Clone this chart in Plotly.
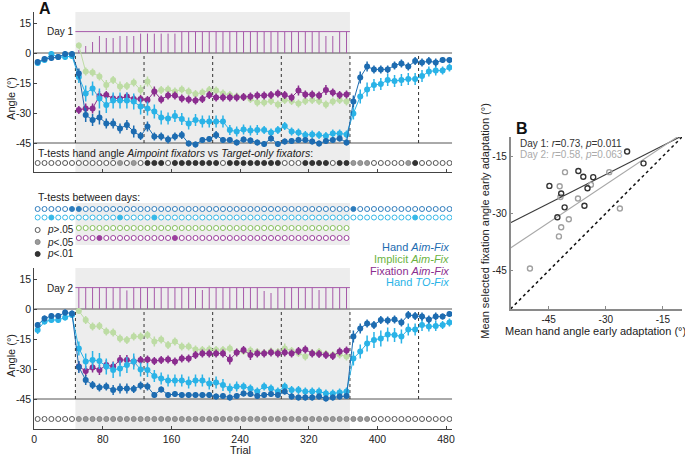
import numpy as np
import plotly.graph_objects as go

W, H = 685, 458
FONT = "Liberation Sans, Arial, Helvetica, sans-serif"

# ---------------- Panel A data ----------------
trial_bins = list(range(4, 488, 8))          # 61 bin centres (trials)
rot_bins = trial_bins[6:46]                  # 40 rotation bins
block_edges = [48, 128, 208, 288, 368, 448]
rot_start, rot_end = 48, 368
x_ticks = [0, 80, 160, 240, 320, 400, 480]
y_ticks = [-45, -30, -15, 0, 15]
y_ticktext = ["-45", "-30", "-15", "0", "15"]
ref_lines = [0, -45]

# Day 1
hand_aim_d1 = [-4.5, -3, -2.5, -2, -0.5, -0.5,
               -10.2, -31, -33.5, -32.2, -35.2, -35.2, -37.7, -36, -39.3, -41.5, -36.8, -41.8, -41.8, -43.2,
               -41.8, -41, -45.2, -45.7, -43.5, -43, -41, -43.5, -43.5, -44.8, -43.2, -43.8, -44.8,
               -45.5, -42.7, -45.5, -44.3, -44, -43.5, -43.5, -44.3, -45.2, -44, -43.5, -42.7, -44.8,
               -24.3, -12.2, -6.8, -8.2, -8.2, -8.2, -6.2, -5.2, -6.8, -4, -4.8, -4, -4.8, -3.5, -3.5]
hand_aim_d1_err = [1.5, 1.5, 1.5, 1.5, 1.5, 1.5,
                   2.5, 3.5, 3, 3.5, 2.5, 2.5, 2.5, 2.5, 3, 2, 2.5, 2, 2, 2,
                   2, 2, 1.5, 1.5, 1.5, 1.5, 2, 1.5, 1.5, 1.5, 1.5, 1.5, 1.5,
                   1.5, 1.5, 1.5, 1.5, 1.5, 1.5, 1.5, 1.5, 1.5, 1.5, 1.5, 1.5, 1.5,
                   3, 3, 2.5, 2, 2, 2, 2, 2, 2, 2, 2, 2, 2, 1.5, 1.5]
hand_to_d1 = [-5, -3.5, -0.5, -2, -2, -1.5,
              -12, -20.2, -17.7, -22.7, -26, -23.8, -23.8, -23.8, -24.3, -26.8, -27.7, -29.3, -32.2, -32.7,
              -31.5, -33, -35.2, -33.5, -34.3, -34.3, -34.3, -34.3, -38.5, -39.3, -38.2, -38.8, -38.5,
              -38.5, -39.8, -38.5, -36.5, -39.3, -39.8, -41, -40.7, -41, -41.5, -40.2, -40.2, -40.7,
              -30.2, -21.8, -18.2, -16, -15.5, -13.5, -14, -13.5, -13, -13, -11.5, -9.3, -8.8, -8.8, -7.3]
hand_to_d1_err = [1.5, 1.5, 1.5, 1.5, 1.5, 1.5,
                  3, 4, 3.5, 5, 4, 4, 4, 4, 4, 4, 3.5, 3.5, 3.5, 3,
                  3, 3, 3, 3, 3, 3, 3, 3, 2.5, 2.5, 2.5, 2.5, 2.5,
                  2, 2, 2, 2, 2, 2, 2, 2, 2, 2, 2, 2, 2,
                  3, 3.5, 3.5, 3, 3, 3, 3, 3, 3, 3, 3, 2.5, 2.5, 2, 2]
implicit_d1 = [3.7, -9.3, -9.8, -11.8, -16, -13.5, -16.8, -16.5, -14.8, -18.5, -14.3, -19.3, -18.5, -18.2,
               -19.3, -18.2, -19.3, -20.5, -19.8, -18.5, -18.8, -20.2, -21, -21.8,
               -22, -23, -24.8, -24.8, -24, -25.7, -23.5, -24, -25.2, -24, -23.5, -24, -25.7, -24.3, -23.5, -24.3]
implicit_d1_err = [1.5, 2, 2, 2, 2.5, 2, 2.5, 2, 2, 2.5, 2.5, 2, 2, 2, 2, 2, 2, 2, 2, 2, 2, 2, 2, 2,
                   2, 2, 2, 2, 2, 2, 2, 2, 2, 2, 2, 2, 2, 2, 2, 2]
fixation_d1 = [-28.5, -27.7, -27.7, -21.5, -21, -22.7, -22.7, -21.8, -23, -23, -23.5, -19.3, -23.2, -21.3,
               -21.3, -22.7, -23.2, -23.8, -23, -21, -22.2, -22.2, -22.2, -22.2,
               -22, -21.7, -21.2, -21.2, -21, -20.2, -21, -22.2, -18.8, -20.7, -20.7, -21.3, -18.5, -19.8, -21, -20.7]
fixation_d1_err = [2, 2.5, 2.5, 2.5, 2, 2, 2, 2, 2, 2, 2, 2.5, 2, 2, 2, 2, 2, 2, 2, 2, 2, 2, 2, 2,
                   2, 2, 2, 2, 2, 2, 2, 2, 2.5, 2, 2, 2, 2.5, 2, 2, 2]
aim_count_d1 = [1.5, 3.5, 5.5, 8.5, 7.5, 7.5, 8.5, 8.5, 8.5, 9.7, 9.7, 9.7, 9.7, 9.7, 9.7,
                10.7, 10.7, 10.7, 10.7, 10.7, 10.7, 10.7, 10.7, 10.7, 10.7, 10.7, 10.7, 10.7, 10.7, 10.7,
                10.7, 10.7, 10.7, 10.7, 10.7, 10.7, 8.5, 8.5, 10.7, 10.7]

# Day 2
hand_aim_d2 = [-8, -4.7, -3.5, -3.5, -1.8, -2.2,
               -29, -35.5, -38, -39.2, -38.8, -40.5, -39.7, -39.7, -40, -38.3, -38.8, -43, -40.2, -43,
               -42.5, -43, -43, -43, -43, -43, -43.8, -43.5, -44.3, -43.5,
               -42.2, -42.5, -43.5, -43, -42.5, -43, -41.3, -43.8, -44.2, -44.2, -44.2, -43.8, -44.7, -44.2, -43.8, -43.5,
               -13.8, -9.7, -7.2, -8, -5.5, -5.8, -5.2, -6.8, -3, -3.5, -3.8, -5.2, -3.8, -3.8, -2.5]
hand_aim_d2_err = [1.5, 1.5, 1.5, 1.5, 1.5, 1.5,
                   3, 2.5, 2, 2, 2, 2.5, 2.5, 2.5, 2, 2, 2, 1.5, 1.5, 1.5,
                   1.5, 1.5, 1.5, 1.5, 1.5, 1.5, 1.5, 1.5, 1.5, 1.5,
                   1.5, 1.5, 1.5, 1.5, 1.5, 1.5, 1.5, 1.5, 1.5, 1.5, 1.5, 1.5, 1.5, 1.5, 1.5, 1.5,
                   3, 2.5, 2, 2, 2, 2, 2, 2, 2, 2, 2, 2, 2, 1.5, 1.5]
hand_to_d2 = [-10.5, -6.3, -5.5, -5.5, -4.2, -3,
              -19.7, -26.3, -25.5, -26, -28.8, -30.5, -29.7, -28, -26.3, -30.2, -30.5, -33.5, -34.7, -35.8,
              -35.8, -35.8, -36.8, -35.8, -35.8, -37.2, -36.8, -38, -39.7, -38.8,
              -38.8, -39.7, -41.3, -38.8, -39.7, -41.3, -38.8, -40.5, -40.5, -41.3, -41.3, -41.3, -42.2, -42.2, -41.8, -41.3,
              -24.7, -21.3, -17.2, -15.5, -14.7, -12.7, -13, -13.8, -10.2, -10.2, -8, -8.8, -8.5, -8, -6.8]
hand_to_d2_err = [2, 1.5, 1.5, 1.5, 1.5, 1.5,
                  3.5, 4, 4.5, 4, 4, 4, 4, 4, 4, 3.5, 3.5, 3, 3, 3,
                  3, 3, 3, 3, 3, 3, 3, 3, 2.5, 2.5,
                  2, 2, 2, 2, 2, 2, 2, 2, 2, 2, 2, 2, 2, 2, 2, 2,
                  3.5, 3.5, 4, 4, 4, 3.5, 3.5, 3.5, 3, 3, 3, 2.5, 2.5, 2, 2]
implicit_d2 = [-1, -5.5, -8.8, -8.5, -11.3, -11.8, -14.7, -15.5, -13.8, -13.8, -13, -16.3, -15.2, -18,
               -16.3, -18.8, -18.8, -20.2, -20.5, -20.2, -20.5, -20.5, -19.7, -21.8,
               -21, -20.8, -21.5, -22, -21.3, -21.5, -19.7, -21, -22, -23.8, -22, -21.5, -22.5, -23, -22.8, -23.8]
implicit_d2_err = [1.5, 2, 2, 2, 2, 2, 2, 2, 2, 2, 2, 2.5, 2, 2, 2, 2, 2, 2, 2, 2, 2, 2, 2, 2,
                   2, 2, 2, 2, 2, 2, 2.5, 2, 2, 2, 2, 2, 2, 2, 2, 2]
fixation_d2 = [-28.8, -31, -29.2, -30.5, -28, -28.8, -25.5, -25.5, -26.3, -25.5, -25.2, -26, -25.5, -25.2,
               -26.3, -24.7, -24.7, -23, -22.2, -22.2, -22.2, -22.2, -25.2, -21.8,
               -20.5, -23, -22.2, -22.2, -21.8, -22.2, -21.8, -22.2, -21, -20.2, -22.2, -22.5, -23, -23.5, -21.3, -20.8]
fixation_d2_err = [2.5, 2.5, 2.5, 2.5, 2.5, 2.5, 2.5, 2.5, 2.5, 2, 2, 2, 2, 2, 2, 2, 2, 2, 2, 2, 2, 2, 2.5, 2,
                   2, 2.5, 2, 2, 2, 2, 2, 2, 2, 2, 2, 2, 2, 2, 2, 2]
aim_count_d2 = [10.7, 10.7, 10.7, 10.7, 10.7, 10.7, 10.7, 9.3, 10.7, 10.7, 10.7, 10.7, 10.7, 10.7, 10.7,
                10.7, 10.7, 10.7, 9.5, 10.7, 10.7, 10.7, 10.7, 10.7, 10.7, 10.7, 10.7, 9, 8, 10.7,
                10.7, 10.7, 10.7, 10.7, 10.7, 9.5, 10.7, 10.7, 10.7, 10.7]
count_max = 10.7

# t-test codes: 0 = p>.05, 1 = p<.05, 2 = p<.01
ttest_groups_d1 = [0, 0, 0, 0, 0, 0,
                   0, 0, 0, 0, 0, 0, 1, 0, 1, 0, 2, 2, 2, 0, 2, 2, 2, 2, 2, 2, 2, 0, 2, 2, 2, 2, 2, 2, 2, 2,
                   0, 0, 0, 2, 2, 2, 2, 0, 2, 2,
                   1, 1, 1, 0, 0, 0, 0, 0, 1, 2, 0, 0, 0, 0, 0]
ttest_groups_d2 = [0, 0, 0, 0, 0, 0,
                   1, 1, 1, 1, 1, 1, 1, 1, 1, 1, 1, 1, 1, 1, 1, 1, 1, 1, 1, 1, 1, 1, 1, 1,
                   1, 1, 1, 1, 1, 1, 1, 1, 1, 1, 1, 1, 1, 1, 1, 1,
                   1, 1, 1, 0, 0, 0, 0, 0, 0, 0, 0, 0, 0, 0, 0]
days_hand_aim = [0, 0, 0, 0, 0, 1, 1, 0, 0, 0, 0, 0, 0, 0, 0, 0, 0, 0, 0, 0, 0, 0, 0, 0, 0, 0, 0, 0, 0, 0,
                 0, 0, 0, 0, 0, 0, 0, 0, 0, 0, 0, 0, 0, 0, 0, 0, 1, 0, 0, 0, 0, 0, 0, 0, 0, 0, 0, 0, 0, 0, 0]
days_hand_to = [0, 0, 1, 0, 0, 0, 0, 0, 0, 0, 0, 0, 1, 0, 0, 0, 0, 1, 0, 0, 0, 0, 0, 0, 0, 0, 0, 0, 0, 0,
                0, 0, 0, 0, 0, 0, 0, 0, 0, 0, 0, 0, 0, 0, 0, 0, 0, 0, 0, 0, 0, 0, 0, 0, 0, 1, 0, 0, 0, 0, 0]
days_implicit = [0] * 40
days_fixation = [0, 0, 0, 1, 0, 0, 0, 0, 0, 0, 0, 0, 0, 0, 1, 0, 0, 0, 0, 0,
                 0, 0, 0, 0, 0, 0, 0, 0, 0, 0, 0, 0, 0, 0, 0, 0, 0, 0, 0, 0]

# ---------------- Panel B data ----------------
hand_early_d1 = [-24.4, -20.1, -37.2, -35.9, -33.3, -44.8, -34.8, -41.7, -40.8, -35.6, -42.7]
fix_early_d1 = [-13.8, -16.9, -18.9, -20.4, -20.5, -22.8, -23.4, -24.8, -28.4, -28.0, -31.0]
hand_early_d2 = [-40.7, -29.1, -42.1, -33.9, -41.9, -37.3, -26.3, -39.7, -41.7, -42.3, -49.9]
fix_early_d2 = [-19.2, -19.2, -22.9, -22.5, -25.7, -26.1, -28.7, -31.5, -33.6, -36.0, -44.4]
b_range = [-55, -10]
b_ticks = [-45, -30, -15]

for arr in [hand_aim_d1, hand_aim_d1_err, hand_to_d1, hand_to_d1_err, hand_aim_d2, hand_aim_d2_err,
            hand_to_d2, hand_to_d2_err, ttest_groups_d1, ttest_groups_d2, days_hand_aim, days_hand_to]:
    assert len(arr) == 61, len(arr)
for arr in [implicit_d1, implicit_d1_err, fixation_d1, fixation_d1_err, aim_count_d1,
            implicit_d2, implicit_d2_err, fixation_d2, fixation_d2_err, aim_count_d2, days_fixation]:
    assert len(arr) == 40, len(arr)

# ---------------- styling ----------------
C_AIM = "#1d6cb1"
C_TO = "#2ab3e7"
C_IMP = "#bddca4"
C_IMP_TXT = "#6bb33f"
C_FIX = "#8b2d8f"
C_STEM = "#a65aa9"
AX = "#444444"


def px(x):
    return x / W


def py(y):
    return 1 - y / H


fig = go.Figure()


def series(x, y, err, color, xa, ya):
    fig.add_trace(go.Scatter(
        x=x, y=y, mode="lines+markers", xaxis=xa, yaxis=ya,
        line=dict(color=color, width=1),
        marker=dict(color=color, size=6, line=dict(width=0)),
        error_y=dict(type="data", array=err, color=color, thickness=1.5, width=0),
        showlegend=False, hoverinfo="skip"))


def stems(counts, xa, ya):
    xs, ys = [], []
    for t, c in zip(rot_bins, counts):
        xs += [t, t, None]
        ys += [0, c, None]
    fig.add_trace(go.Scatter(x=xs, y=ys, mode="lines", xaxis=xa, yaxis=ya,
                             line=dict(color=C_STEM, width=1), showlegend=False, hoverinfo="skip"))
    fig.add_trace(go.Scatter(x=[rot_start, rot_end], y=[count_max, count_max], mode="lines",
                             xaxis=xa, yaxis=ya, line=dict(color=C_STEM, width=1),
                             showlegend=False, hoverinfo="skip"))


GRAY_FILL = {0: "white", 1: "#9b9b9b", 2: "#333333"}
GRAY_LINE = {0: "#555555", 1: "#888888", 2: "#333333"}


def gray_row(codes, yval, xa, ya):
    fig.add_trace(go.Scatter(
        x=trial_bins, y=[yval] * len(codes), mode="markers", xaxis=xa, yaxis=ya,
        marker=dict(size=5, symbol="circle", color=[GRAY_FILL[c] for c in codes],
                    line=dict(color=[GRAY_LINE[c] for c in codes], width=1)),
        showlegend=False, hoverinfo="skip"))


def color_row(xvals, codes, yval, color):
    fig.add_trace(go.Scatter(
        x=xvals, y=[yval] * len(codes), mode="markers", xaxis="x3", yaxis="y3",
        marker=dict(size=5, symbol="circle", color=["white" if c == 0 else color for c in codes],
                    line=dict(color=color, width=1)),
        showlegend=False, hoverinfo="skip"))


# Day 1 panel
stems(aim_count_d1, "x", "y")
series(rot_bins, implicit_d1, implicit_d1_err, C_IMP, "x", "y")
series(rot_bins, fixation_d1, fixation_d1_err, C_FIX, "x", "y")
series(trial_bins, hand_to_d1, hand_to_d1_err, C_TO, "x", "y")
series(trial_bins, hand_aim_d1, hand_aim_d1_err, C_AIM, "x", "y")
gray_row(ttest_groups_d1, -55, "x", "y")

# Day 2 panel
stems(aim_count_d2, "x2", "y2")
series(rot_bins, implicit_d2, implicit_d2_err, C_IMP, "x2", "y2")
series(rot_bins, fixation_d2, fixation_d2_err, C_FIX, "x2", "y2")
series(trial_bins, hand_to_d2, hand_to_d2_err, C_TO, "x2", "y2")
series(trial_bins, hand_aim_d2, hand_aim_d2_err, C_AIM, "x2", "y2")
gray_row(ttest_groups_d2, -55, "x2", "y2")

# middle: between-day t-tests (y3 in pixel rows)
color_row(trial_bins, days_hand_aim, 209, "#2f7dbd")
color_row(trial_bins, days_hand_to, 217.5, "#36b9e8")
color_row(rot_bins, days_implicit, 228, "#86c05c")
color_row(rot_bins, days_fixation, 238, "#9c3f9e")
# p-value key
for code, yy in zip([0, 1, 2], [230, 242, 254]):
    fig.add_trace(go.Scatter(
        x=[trial_bins[0]], y=[yy], mode="markers", xaxis="x3", yaxis="y3",
        marker=dict(size=5, color=GRAY_FILL[code], line=dict(color=GRAY_LINE[code], width=1)),
        showlegend=False, hoverinfo="skip"))

# Panel B
fit_x = np.array(b_range, dtype=float)
for hx, fy, col in [(hand_early_d1, fix_early_d1, "#3a3a3a"), (hand_early_d2, fix_early_d2, "#a8a8a8")]:
    k, b0 = np.polyfit(hx, fy, 1)
    fig.add_trace(go.Scatter(x=fit_x, y=k * fit_x + b0, mode="lines", xaxis="x4", yaxis="y4",
                             line=dict(color=col, width=1.1), showlegend=False, hoverinfo="skip"))
fig.add_trace(go.Scatter(x=b_range, y=b_range, mode="lines", xaxis="x4", yaxis="y4",
                         line=dict(color="#111111", width=1.5, dash="dot"), showlegend=False, hoverinfo="skip"))
fig.add_trace(go.Scatter(x=hand_early_d2, y=fix_early_d2, mode="markers", xaxis="x4", yaxis="y4",
                         marker=dict(size=5, color="rgba(255,255,255,0)", line=dict(color="#a0a0a0", width=1.4)),
                         showlegend=False, hoverinfo="skip"))
fig.add_trace(go.Scatter(x=hand_early_d1, y=fix_early_d1, mode="markers", xaxis="x4", yaxis="y4",
                         marker=dict(size=5, color="rgba(255,255,255,0)", line=dict(color="#333333", width=1.4)),
                         showlegend=False, hoverinfo="skip"))

# ---------------- shapes ----------------
shapes = []
for xa, ya in [("x", "y"), ("x2", "y2")]:
    shapes.append(dict(type="rect", xref=xa, yref=ya + " domain", x0=rot_start, x1=rot_end, y0=0, y1=1,
                       fillcolor="#ededed", line=dict(width=0), layer="below"))
    for v in ref_lines:
        shapes.append(dict(type="line", xref=xa + " domain", yref=ya, x0=0, x1=1, y0=v, y1=v,
                           line=dict(color="#555555", width=1), layer="below"))
    for e in block_edges:
        shapes.append(dict(type="line", xref=xa, yref=ya, x0=e, x1=e, y0=ref_lines[1], y1=ref_lines[0],
                           line=dict(color="#333333", width=1, dash="dot"), layer="below"))
shapes.append(dict(type="rect", xref="x3", yref="y3", x0=rot_start, x1=rot_end, y0=203, y1=245,
                   fillcolor="#ededed", line=dict(width=0), layer="below"))

# ---------------- annotations ----------------
ann = []


def text(x, y, s, size=10.5, color="#222222", xanchor="left", yanchor="middle", angle=0, xref="paper", yref="paper"):
    ann.append(dict(x=x, y=y, xref=xref, yref=yref, text=s, showarrow=False, xanchor=xanchor,
                    yanchor=yanchor, textangle=angle, font=dict(family=FONT, size=size, color=color)))


text(px(34), py(8.5), "<b>A</b>", size=16, color="#111111")
text(px(516), py(128), "<b>B</b>", size=16, color="#111111")
text(px(42), py(32), "Day 1", size=10)
text(px(42), py(288), "Day 2", size=10)
text(px(8), py(98), "Angle (°)", size=11, angle=-90, xanchor="center")
text(px(8), py(355), "Angle (°)", size=11, angle=-90, xanchor="center")
text(px(240), py(450), "Trial", size=11, xanchor="center")
text(px(33), py(153), "T-tests hand angle <i>Aimpoint fixators</i> vs <i>Target-only fixators</i>:", size=10.5)
text(px(33), py(197), "T-tests between days:", size=10.5)
text(px(42), py(230), "<i>p</i>>.05", size=10)
text(px(42), py(242), "<i>p</i><.05", size=10)
text(px(42), py(254), "<i>p</i><.01", size=10)
text(px(452), py(247), "Hand <i>Aim-Fix</i>", size=11, color=C_AIM, xanchor="right")
text(px(452), py(259), "Implicit <i>Aim-Fix</i>", size=11, color=C_IMP_TXT, xanchor="right")
text(px(452), py(270.5), "Fixation <i>Aim-Fix</i>", size=11, color=C_FIX, xanchor="right")
text(px(452), py(282), "Hand <i>TO-Fix</i>", size=11, color=C_TO, xanchor="right")
text(px(520), py(143), "Day 1: <i>r</i>=0.73, <i>p</i>=0.011", size=10, color="#333333")
text(px(520), py(155), "Day 2: <i>r</i>=0.58, <i>p</i>=0.063", size=10, color="#aaaaaa")
text(px(486), py(221), "Mean selected fixation angle early adaptation (°)", size=11, angle=-90, xanchor="center")
text(px(598), py(331), "Mean hand angle early adaptation (°)", size=11, xanchor="center")

# ---------------- layout ----------------
xdom = [px(31.5), px(453)]
xr = [0, 487]
common_x = dict(range=xr, domain=xdom, showline=True, linecolor=AX, linewidth=1, ticks="inside", ticklen=3,
                tickcolor=AX, tickvals=x_ticks, showgrid=False, zeroline=False, fixedrange=True,
                tickfont=dict(family=FONT, size=10.5, color="#222222"))
common_y = dict(showline=True, linecolor=AX, linewidth=1, ticks="inside", ticklen=3, tickcolor=AX,
                tickvals=y_ticks, ticktext=y_ticktext, showgrid=False, zeroline=False, fixedrange=True,
                tickfont=dict(family=FONT, size=10.5, color="#222222"))
b_axis = dict(range=b_range, showline=True, linecolor="#8a8a8a", linewidth=1.5, ticks="inside", ticklen=3,
              tickcolor="#8a8a8a", tickvals=b_ticks, ticktext=[str(v) for v in b_ticks], showgrid=False,
              zeroline=False, fixedrange=True, tickfont=dict(family=FONT, size=10, color="#222222"))

fig.update_layout(
    width=W, height=H, margin=dict(l=0, r=0, t=0, b=0),
    paper_bgcolor="white", plot_bgcolor="rgba(0,0,0,0)",
    font=dict(family=FONT),
    xaxis=dict(common_x, anchor="y", showticklabels=False),
    yaxis=dict(common_y, anchor="x", domain=[py(172), py(12)], range=[-59.5, 20.5]),
    xaxis2=dict(common_x, anchor="y2", showticklabels=True),
    yaxis2=dict(common_y, anchor="x2", domain=[py(429), py(268)], range=[-60, 20.5]),
    xaxis3=dict(range=xr, domain=xdom, anchor="y3", visible=False, fixedrange=True),
    yaxis3=dict(range=[262, 192], domain=[py(262), py(192)], anchor="x3", visible=False, fixedrange=True),
    xaxis4=dict(b_axis, domain=[px(512), 1.0], anchor="y4"),
    yaxis4=dict(b_axis, domain=[py(309), py(137)], anchor="x4"),
    shapes=shapes, annotations=ann,
)

fig.write_html("out.html", config={"displayModeBar": False},
               post_script="document.body.style.margin='0px';")
